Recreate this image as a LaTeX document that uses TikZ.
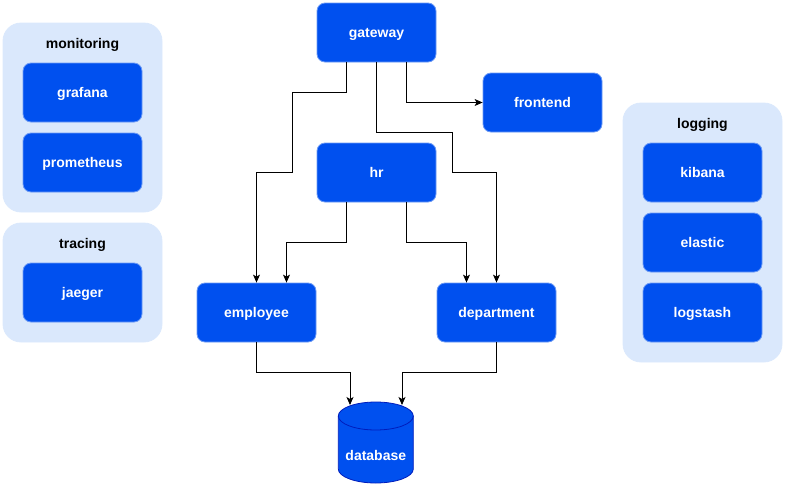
\documentclass[tikz,border=0pt]{standalone}
\usepackage{fontspec}
\setmainfont{Liberation Sans}
\usepackage{tikz}
\usetikzlibrary{arrows.meta}

\definecolor{srvblue}{HTML}{0050EF}
\definecolor{srvedge}{HTML}{6C9AF5}
\definecolor{dbedge}{HTML}{001DBC}
\definecolor{grpfill}{HTML}{DAE8FC}

\begin{document}
\begin{tikzpicture}[x=1pt,y=-1pt]
            \tikzset{service/.style={rectangle, rounded corners=8pt, fill=srvblue, draw=srvedge, line width=0.8pt, minimum width=119pt, minimum height=59pt, text=white, text height=13pt, text depth=3pt, font=\fontsize{14}{16}\selectfont\bfseries}};
            \tikzset{group/.style={rectangle, rounded corners=18pt, fill=grpfill, draw=grpfill, line width=0.8pt, minimum width=159pt}};
            \tikzset{grouplabel/.style={font=\fontsize{14}{16}\selectfont\bfseries, text=black, text height=13pt, text depth=3pt}};
            \tikzset{line/.style={line width=0.8pt, -{Stealth[length=8pt, width=7pt, inset=2pt]}}};
            
            \useasboundingbox (0,0) rectangle (785,485);
            
            \node[group, minimum height=189pt] (monitoring) at (82.5,117.5) {};
            \node[grouplabel] (monitoringlabel) at (82.5,43) {monitoring};
            \node[service] (grafana) at (82.5,92.5) {grafana};
            \node[service] (prometheus) at (82.5,162.5) {prometheus};
            
            \node[group, minimum height=119pt] (tracing) at (82.5,282.5) {};
            \node[grouplabel] (tracinglabel) at (82.5,243) {tracing};
            \node[service] (jaeger) at (82.5,292.5) {jaeger};
            
            \node[group, minimum height=259pt] (logging) at (702.5,232.5) {};
            \node[grouplabel] (logginglabel) at (702.5,123) {logging};
            \node[service] (kibana) at (702.5,172.5) {kibana};
            \node[service] (elastic) at (702.5,242.5) {elastic};
            \node[service] (logstash) at (702.5,312.5) {logstash};
            
            \node[service] (gateway) at (376.5,32.5) {gateway};
            \node[service] (frontend) at (542.5,102.5) {frontend};
            \node[service] (hr) at (376.5,172.5) {hr};
            \node[service] (employee) at (256.5,312.5) {employee};
            \node[service] (department) at (496.5,312.5) {department};
            
            \filldraw[fill=srvblue, draw=dbedge, line width=0.8pt] (338.3,416) -- (338.3,469) arc[start angle=180, end angle=360, x radius=37.5, y radius=-14] -- (413.3,416) arc[start angle=0, end angle=180, x radius=37.5, y radius=-14] -- cycle;
            \draw[dbedge, line width=0.8pt] (338.3,416) arc[start angle=180, end angle=360, x radius=37.5, y radius=-14];
            \node[text=white, text height=13pt, text depth=3pt, font=\fontsize{14}{16}\selectfont\bfseries] (database) at (375.8,455) {database};
            \coordinate (dbleft) at (350,405);
            \coordinate (dbright) at (402,405);
            
            \draw[line] ([xshift=-30pt]gateway.south) |- (292.5,92) -- (292.5,172) -| (employee.north);
            \draw[line] (gateway.south) |- (452.5,132) -- (452.5,172) -| (department.north);
            \draw[line] ([xshift=30pt]gateway.south) |- (frontend.west);
            
            \draw[line] ([xshift=-30pt]hr.south) -- ++(0,40) -| ([xshift=30pt]employee.north);
            \draw[line] ([xshift=30pt]hr.south) -- ++(0,40) -| ([xshift=-30pt]department.north);
            
            \draw[line] (employee.south) -- ++(0,30) -| (dbleft);
            \draw[line] (department.south) -- ++(0,30) -| (dbright);
        \end{tikzpicture}
\end{document}
